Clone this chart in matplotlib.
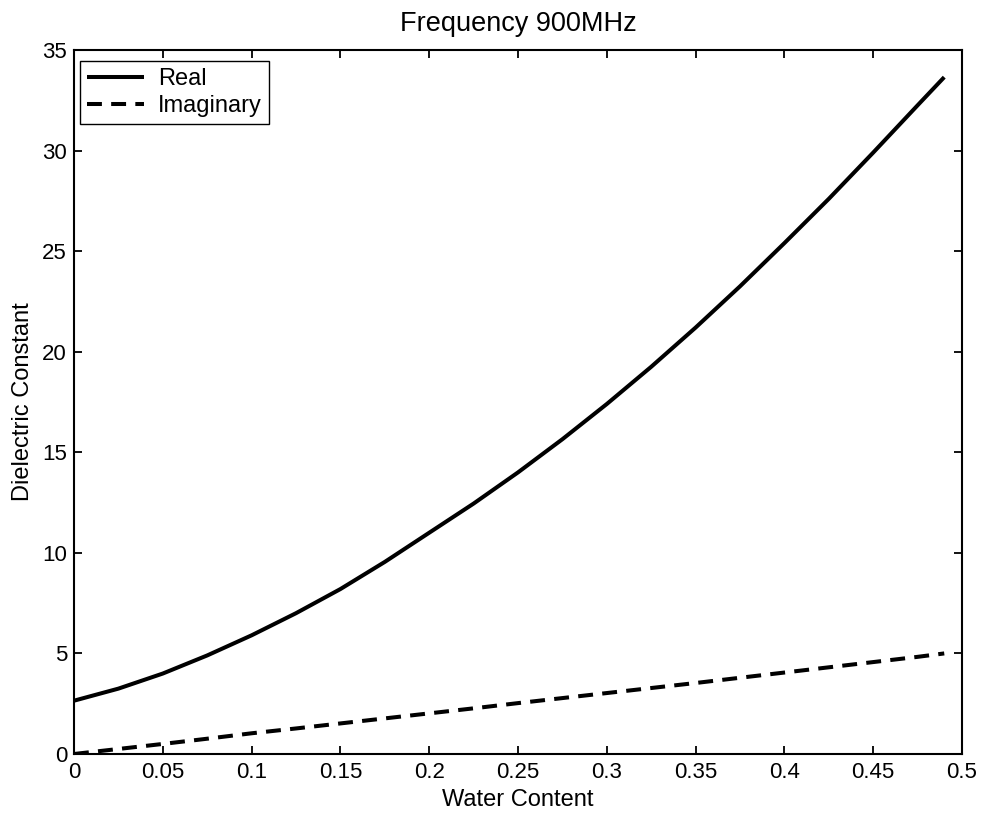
import matplotlib
matplotlib.use("Agg")
import matplotlib.pyplot as plt

plt.rcParams['font.family'] = ['Liberation Sans', 'DejaVu Sans']

water_content = [0.0, 0.025, 0.05, 0.075, 0.10, 0.125, 0.15, 0.175, 0.20, 0.225, 0.25,
                 0.275, 0.30, 0.325, 0.35, 0.375, 0.40, 0.425, 0.45, 0.475, 0.49]
real_part = [2.65, 3.25, 4.0, 4.9, 5.9, 7.0, 8.2, 9.55, 11.0, 12.45, 14.0,
             15.65, 17.4, 19.25, 21.2, 23.25, 25.4, 27.6, 29.9, 32.25, 33.65]
imag_part = [0.0, 0.25, 0.5, 0.76, 1.03, 1.27, 1.52, 1.77, 2.02, 2.27, 2.53,
             2.78, 3.03, 3.28, 3.53, 3.79, 4.05, 4.31, 4.57, 4.83, 5.0]

x_ticks = [0, 0.05, 0.1, 0.15, 0.2, 0.25, 0.3, 0.35, 0.4, 0.45, 0.5]
x_tick_labels = ['0', '0.05', '0.1', '0.15', '0.2', '0.25', '0.3', '0.35', '0.4', '0.45', '0.5']
y_ticks = [0, 5, 10, 15, 20, 25, 30, 35]
y_tick_labels = ['0', '5', '10', '15', '20', '25', '30', '35']

fig = plt.figure(figsize=(9.87, 8.18), dpi=100)
ax = fig.add_axes([74/987, 64/818, (962-74)/987, (754-50)/818])

ax.plot(water_content, real_part, color='black', lw=2.9, label='Real', solid_capstyle='butt')
ax.plot(water_content, imag_part, color='black', lw=2.9, dashes=(3.7, 2.3), label='Imaginary',
        dash_capstyle='butt')

ax.set_xlim(0, 0.5)
ax.set_ylim(0, 35)
ax.set_xticks(x_ticks)
ax.set_xticklabels(x_tick_labels)
ax.set_yticks(y_ticks)
ax.set_yticklabels(y_tick_labels)
ax.tick_params(direction='in', length=6, width=1.3, top=True, right=True,
               labelsize=16, colors='black')
ax.tick_params(axis='x', pad=6)
ax.tick_params(axis='y', pad=5)
for s in ax.spines.values():
    s.set_linewidth(1.5)
    s.set_color('black')

ax.set_xlabel('Water Content', fontsize=17, labelpad=4)
ax.set_ylabel('Dielectric Constant', fontsize=17, labelpad=6)
ax.set_title('Frequency 900MHz', fontsize=19.5, pad=14)

leg = ax.legend(loc='upper left', bbox_to_anchor=(6/888, (754-61)/704), fontsize=17,
                frameon=True, fancybox=False, edgecolor='black', framealpha=1,
                borderaxespad=0, handlelength=2.4, handletextpad=0.6,
                borderpad=0.3, labelspacing=0.2)
leg.get_frame().set_linewidth(1.0)

fig.savefig('out.png', dpi=100)
